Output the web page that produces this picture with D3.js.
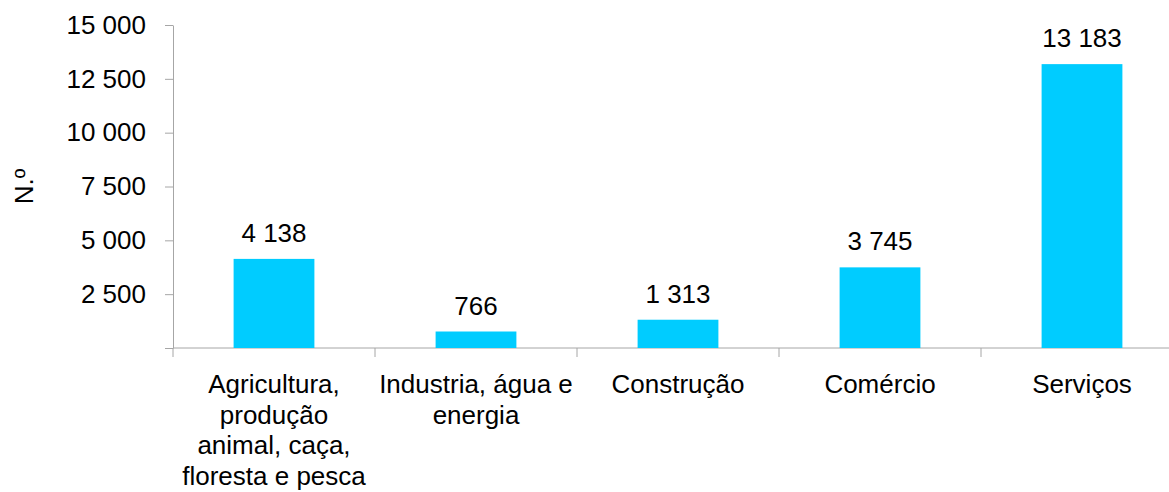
<!DOCTYPE html>
<html lang="pt">
<head>
  <meta charset="UTF-8">
  <title>N.º por sector</title>
  <script src="https://d3js.org/d3.v7.min.js"></script>
  <style>
    body { margin: 0; background: #fff; }
    svg text { font-family: "Liberation Sans", Arial, sans-serif; fill: #000; }
    .axis path, .axis line { stroke: #a6a6a6; }
  </style>
</head>
<body>
  <div id="chart"></div>

  <script>
    // data
    const categories = ["Agricultura", "Industria", "Construção", "Comércio", "Serviços"];
    const categoryLines = [
      ["Agricultura,", "produção", "animal, caça,", "floresta e pesca"],
      ["Industria, água e", "energia"],
      ["Construção"],
      ["Comércio"],
      ["Serviços"]
    ];
    const values = [4138, 766, 1313, 3745, 13183];
    const yTicks = [0, 2500, 5000, 7500, 10000, 12500, 15000];
    const yLabel = "N.º";

    const width = 1169, height = 492;
    const margin = { top: 25, left: 173, bottom: 144 };
    const plotBottom = height - margin.bottom;
    const fontSize = 26;

    const pt = d3.formatLocale({ decimal: ",", thousands: " ", grouping: [3], currency: ["", " €"] });
    const fmt = pt.format(",d");

    const svg = d3.select("#chart").append("svg")
      .attr("width", width)
      .attr("height", height);

    const x = d3.scaleBand()
      .domain(categories)
      .range([margin.left, margin.left + 1010])
      .paddingInner(0.6)
      .paddingOuter(0.3);

    const y = d3.scaleLinear()
      .domain([0, 15000])
      .range([plotBottom, margin.top]);

    // y axis
    const yAxis = svg.append("g")
      .attr("class", "axis")
      .attr("transform", `translate(${margin.left},0)`)
      .call(d3.axisLeft(y).tickValues(yTicks).tickSize(8).tickSizeOuter(0).tickPadding(19)
        .tickFormat(d => d === 0 ? "" : fmt(d)));
    yAxis.selectAll("text").style("font-size", fontSize + "px");

    // x axis baseline + boundary ticks
    const xAxis = svg.append("g").attr("class", "axis");
    xAxis.append("line")
      .attr("x1", margin.left).attr("x2", width)
      .attr("y1", plotBottom).attr("y2", plotBottom);
    const bounds = categories.map(c => x(c) - x.step() * 0.3);
    xAxis.selectAll(".xtick")
      .data(bounds)
      .join("line")
      .attr("x1", d => d).attr("x2", d => d)
      .attr("y1", plotBottom).attr("y2", plotBottom + 9);

    // bars
    svg.selectAll(".bar")
      .data(values)
      .join("rect")
      .attr("class", "bar")
      .attr("x", (d, i) => x(categories[i]))
      .attr("y", d => y(d))
      .attr("width", x.bandwidth())
      .attr("height", d => plotBottom - y(d))
      .attr("fill", "#00ccff");

    // value labels
    svg.selectAll(".val")
      .data(values)
      .join("text")
      .attr("class", "val")
      .attr("x", (d, i) => x(categories[i]) + x.bandwidth() / 2)
      .attr("y", d => y(d) - 17)
      .attr("text-anchor", "middle")
      .style("font-size", fontSize + "px")
      .text(d => fmt(d));

    // category labels
    const cat = svg.selectAll(".cat")
      .data(categoryLines)
      .join("text")
      .attr("class", "cat")
      .attr("text-anchor", "middle")
      .style("font-size", fontSize + "px");
    cat.selectAll("tspan")
      .data((lines, i) => lines.map(l => ({ l, cx: x(categories[i]) + x.bandwidth() / 2 })))
      .join("tspan")
      .attr("x", d => d.cx)
      .attr("y", (d, j) => plotBottom + 45 + j * 30.5)
      .text(d => d.l);

    // y title
    svg.append("text")
      .attr("transform", `translate(33,${(margin.top + plotBottom) / 2}) rotate(-90)`)
      .attr("text-anchor", "middle")
      .style("font-size", fontSize + "px")
      .text(yLabel);
  </script>
</body>
</html>
